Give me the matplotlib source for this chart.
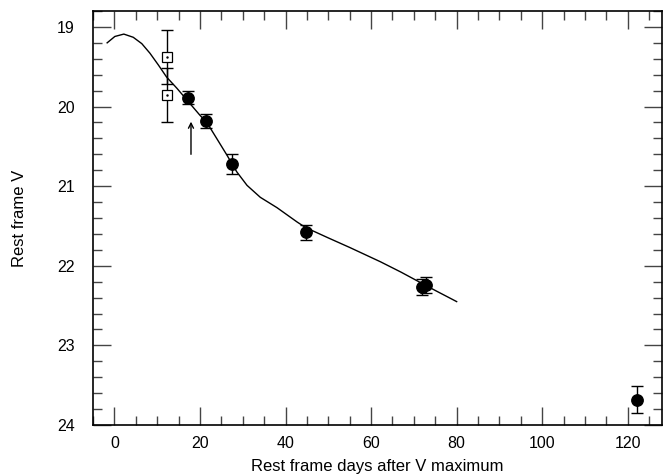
import numpy as np
import matplotlib
matplotlib.use("Agg")
import matplotlib.pyplot as plt
from matplotlib.ticker import MultipleLocator

plt.rcParams['font.family'] = ['Liberation Sans', 'DejaVu Sans']

# photometry (filled circles)
days = [17.2, 21.4, 27.4, 44.7, 71.8, 72.9, 122.1]
mag_v = [19.89, 20.18, 20.72, 21.58, 22.27, 22.24, 23.68]
mag_err = [0.08, 0.09, 0.13, 0.09, 0.10, 0.10, 0.17]

# early points (open squares)
days_early = [12.3, 12.3]
mag_early = [19.38, 19.86]
err_early = [0.34, 0.34]

# template light curve
tmpl_days = [-1.7, 0.1, 2.2, 4.4, 6.4, 8.3, 10.3, 12.2, 14.6, 17.3, 20.0,
             21.6, 23.9, 26.3, 28.6, 31.0, 34.1, 38.0, 42.7, 44.7, 50.0,
             55.0, 62.2, 67.0, 71.5, 75.0, 80.0]
tmpl_mag = [19.20, 19.12, 19.09, 19.13, 19.21, 19.33, 19.48, 19.63, 19.77,
            19.94, 20.11, 20.20, 20.40, 20.61, 20.82, 20.99, 21.14, 21.27,
            21.45, 21.52, 21.65, 21.77, 21.95, 22.08, 22.21, 22.31, 22.45]

# arrow marking the epoch of interest
arrow_day = 17.9
arrow_from, arrow_to = 20.60, 20.19

fig = plt.figure(figsize=(6.63, 4.76), dpi=100)
ax = fig.add_axes([0.1403, 0.1071, 0.8582, 0.8698])

ax.plot(tmpl_days, tmpl_mag, color='black', lw=1.0, solid_joinstyle='round')

ax.errorbar(days_early, mag_early, yerr=err_early, fmt='none', ecolor='black',
            elinewidth=1.0, capsize=4.2, capthick=1.0)
ax.plot(days_early, mag_early, 's', ms=6.5, mfc='white', mec='black', mew=0.9)
ax.plot(days_early, mag_early, '.', ms=1.5, color='black')

ax.errorbar(days, mag_v, yerr=mag_err, fmt='o', color='black', ms=8.2,
            elinewidth=1.0, capsize=4.3, capthick=1.0)

ax.annotate('', xy=(arrow_day, arrow_to), xytext=(arrow_day, arrow_from),
            arrowprops=dict(arrowstyle='->', color='black', lw=1.0,
                            mutation_scale=9, shrinkA=0, shrinkB=0))

ax.set_xlim(-5, 128)
ax.set_ylim(24, 18.8)
ax.xaxis.set_major_locator(MultipleLocator(20))
ax.xaxis.set_minor_locator(MultipleLocator(5))
ax.yaxis.set_major_locator(MultipleLocator(1))
ax.yaxis.set_minor_locator(MultipleLocator(0.2))
ax.tick_params(which='both', direction='in', top=True, right=True,
               labelsize=11.5, width=1.0, color='#444444')
ax.tick_params(which='major', length=13)
ax.tick_params(which='minor', length=6.5)
ax.tick_params(axis='x', which='major', pad=8)
ax.tick_params(axis='y', which='major', pad=13)
for sp in ax.spines.values():
    sp.set_linewidth(1.2)

ax.set_xlabel('Rest frame days after V maximum', fontsize=12, labelpad=6)
ax.set_ylabel('Rest frame V', fontsize=12, labelpad=22)

fig.savefig('out.png', dpi=100)
